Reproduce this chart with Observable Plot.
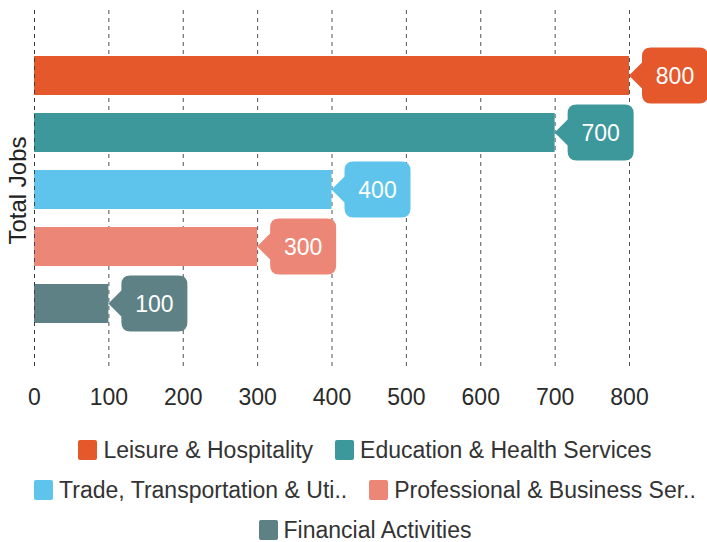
<!DOCTYPE html>
<html>
<head>
<meta charset="utf-8">
<script src="https://cdn.jsdelivr.net/npm/d3@7"></script>
<script src="https://cdn.jsdelivr.net/npm/@observablehq/plot@0.6"></script>
<style>
  body { margin: 0; background: #fff; font-family: "Liberation Sans", Arial, sans-serif; overflow: hidden; }
  #chart svg { display: block; overflow: visible; }
  #legend { width: 730px; margin-top: 5px; display: flex; flex-wrap: wrap; justify-content: center; column-gap: 22px; }
  .item { display: flex; align-items: center; height: 40px; font-size: 23px; color: #333; white-space: nowrap; }
  .sw { width: 19px; height: 20px; margin-right: 6px; border-radius: 2px; }
</style>
</head>
<body>
<div id="chart"></div>
<div id="legend"></div>
<script>
const categories = [
  "Leisure & Hospitality",
  "Education & Health Services",
  "Trade, Transportation & Uti..",
  "Professional & Business Ser..",
  "Financial Activities"
];
const jobs = [800, 700, 400, 300, 100];
const colors = ["#e4582b", "#3d989c", "#5ec4ec", "#ec8777", "#5d8185"];
const xTicks = [0, 100, 200, 300, 400, 500, 600, 700, 800];
const yLabel = "Total Jobs";

const data = categories.map((c, i) => ({category: c, jobs: jobs[i]}));

function callouts(index, scales) {
  const g = d3.create("svg:g");
  const bw = scales.y.bandwidth();
  data.forEach(d => {
    const x0 = scales.x(d.jobs);
    const yc = scales.y(d.category) + bw / 2;
    const a = 13, w = 66, h = 56, r = 9;
    const bx = x0 + a, top = yc - h / 2, bottom = yc + h / 2;
    const p = `M${x0},${yc} L${bx},${yc - a} V${top + r} Q${bx},${top} ${bx + r},${top} H${bx + w - r} Q${bx + w},${top} ${bx + w},${top + r} V${bottom - r} Q${bx + w},${bottom} ${bx + w - r},${bottom} H${bx + r} Q${bx},${bottom} ${bx},${bottom - r} V${yc + a} Z`;
    g.append("path").attr("d", p).attr("fill", scales.color(d.category));
    g.append("text")
      .attr("x", bx + w / 2)
      .attr("y", yc)
      .attr("dy", "0.35em")
      .attr("text-anchor", "middle")
      .attr("fill", "#fff")
      .attr("font-size", 23)
      .text(d.jobs);
  });
  return g.node();
}

const chart = Plot.plot({
  width: 707,
  height: 425,
  marginLeft: 34,
  marginRight: 78,
  marginTop: 10,
  marginBottom: 55,
  style: {fontFamily: '"Liberation Sans", Arial, sans-serif', fontSize: "23px", color: "#333", background: "#fff"},
  x: {domain: [0, 800], ticks: xTicks, label: null},
  y: {domain: categories, paddingInner: 0.31, paddingOuter: 0.76, axis: null},
  color: {domain: categories, range: colors},
  marks: [
    Plot.gridX(xTicks, {stroke: "#333", strokeOpacity: 0.85, strokeDasharray: "4,4"}),
    Plot.barX(data, {x: "jobs", y: "category", fill: "category"}),
    Plot.ruleX([0], {stroke: "#333", strokeOpacity: 0.85, strokeDasharray: "4,4"}),
    Plot.axisX(xTicks, {tickSize: 0, tickPadding: 18, fontSize: 23, label: null, fill: "#2a2a2a"}),
    Plot.text([yLabel], {frameAnchor: "left", textAnchor: "middle", rotate: -90, dx: -16, fontSize: 24, fill: "#222"}),
    callouts
  ]
});
document.getElementById("chart").appendChild(chart);

const legend = d3.select("#legend");
categories.forEach((c, i) => {
  const it = legend.append("div").attr("class", "item");
  it.append("div").attr("class", "sw").style("background", colors[i]);
  it.append("span").text(c);
});
</script>
</body>
</html>
